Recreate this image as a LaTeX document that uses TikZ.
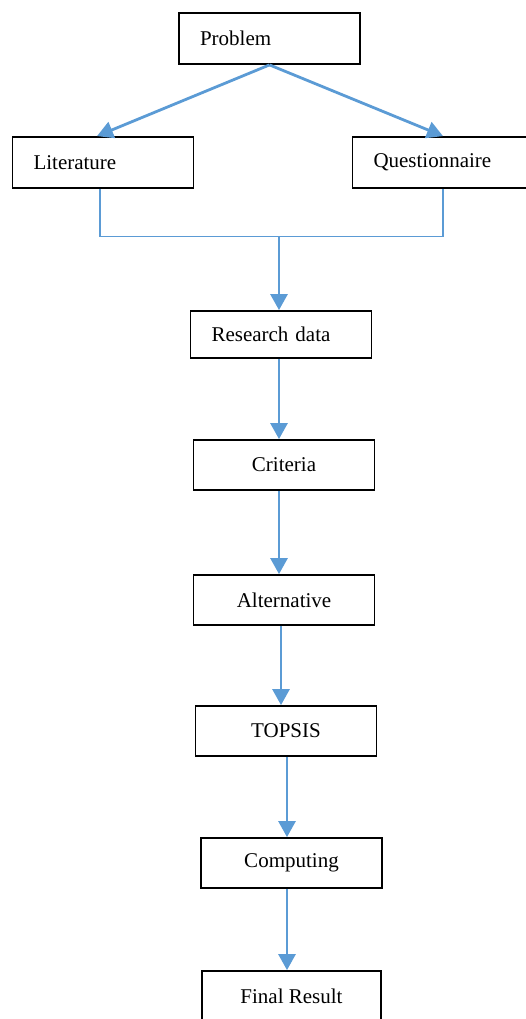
\documentclass[tikz,border=0pt]{standalone}
\usepackage{fontspec}
\setmainfont{Liberation Serif}
\usetikzlibrary{arrows.meta,calc}
\definecolor{flowblue}{RGB}{91,155,213}
\begin{document}
\begin{tikzpicture}[x=1pt,y=-1pt,
  box/.style={draw=black,line width=1.8pt,minimum height=50pt,inner sep=0pt,font=\fontsize{21}{24}\selectfont,fill=white},
  cbox/.style={box,minimum width=181pt,align=center},
  lbox/.style={box,text width=139pt,inner xsep=21pt,align=left},
  flow/.style={draw=flowblue,line width=2.8pt,-{Triangle[length=16pt,width=17pt]}},
  thin/.style={draw=flowblue,line width=1.2pt}]
\useasboundingbox (0,0) rectangle (525,1019);
\node[lbox,minimum height=51pt] (prob) at (269.5,38.5) {Problem};
\node[lbox,minimum height=51pt] (lit) at (103,162.5) {Literature};
\node[lbox,minimum height=51pt] (ques) at (443,162.5) {Questionnaire};
\node[lbox,minimum height=47pt] (res) at (281,334.5) {Research data};
\node[cbox] (crit) at (284,465) {Criteria};
\node[cbox] (alt) at (284,600) {Alternative};
\node[cbox] (top) at (286,731) {TOPSIS};
\node[cbox] (comp) at (291.5,863) {Computing};
\node[cbox,minimum width=179pt] (fin) at (291.5,996) {Final Result};
\coordinate (J) at (279,236.5);
\coordinate (x1) at (279,0);
\coordinate (x2) at (281,0);
\coordinate (x3) at (287,0);
\draw[flow] (prob.south) -- ([xshift=-6pt]lit.north);
\draw[flow] (prob.south) -- (ques.north);
\draw[thin] ([xshift=-3pt]lit.south) |- (J) -| (ques.south);
\draw[flow] (J) -- (J |- res.north);
\draw[flow] (x1 |- res.south) -- (x1 |- crit.north);
\draw[flow] (x1 |- crit.south) -- (x1 |- alt.north);
\draw[flow] (x2 |- alt.south) -- (x2 |- top.north);
\draw[flow] (x3 |- top.south) -- (x3 |- comp.north);
\draw[flow] (x3 |- comp.south) -- (x3 |- fin.north);
\end{tikzpicture}
\end{document}
